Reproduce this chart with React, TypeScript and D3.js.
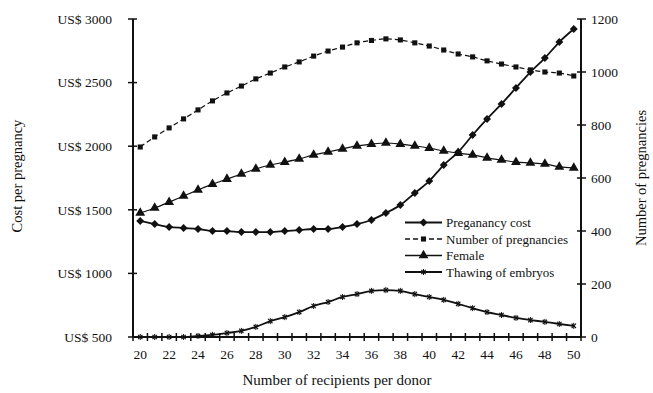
import * as d3 from 'd3'
import { useEffect, useRef } from 'react'

const recipients = d3.range(20, 51)

// cost per pregnancy (US$, left axis)
const pregnancyCost = [
	1412, 1388, 1365, 1357, 1349, 1333, 1333, 1325, 1325, 1325, 1333, 1341, 1349,
	1349, 1365, 1388, 1420, 1475, 1538, 1632, 1726, 1852, 1954, 2088, 2214, 2332,
	2458, 2583, 2693, 2819, 2921,
]
// counts, right axis
const numberOfPregnancies = [
	717, 755, 789, 823, 857, 891, 921, 947, 974, 996, 1019, 1038, 1060, 1079, 1094,
	1110, 1119, 1125, 1121, 1110, 1098, 1083, 1068, 1057, 1042, 1030, 1019, 1008,
	1000, 996, 985,
]
const female = [
	468, 487, 509, 532, 555, 577, 596, 615, 634, 649, 660, 672, 687, 698, 710, 721,
	728, 732, 728, 721, 713, 702, 694, 687, 676, 668, 660, 657, 653, 642, 638,
]
const thawing = [
	0, 0, 0, 0, 4, 8, 15, 23, 38, 60, 75, 94, 117, 132, 151, 162, 174, 177, 174,
	162, 151, 140, 125, 109, 94, 83, 72, 64, 57, 49, 42,
]

const leftTicks = [500, 1000, 1500, 2000, 2500, 3000]
const rightTicks = [0, 200, 400, 600, 800, 1000, 1200]
const xLabels = d3.range(20, 51, 2)

const W = 653
const H = 393
const FONT = '"Liberation Serif", "Tinos", "Times New Roman", Times, "DejaVu Serif", serif'

function App() {
	const svgRef = useRef(null)

	useEffect(() => {
		const svg = d3.select(svgRef.current)
		svg.selectAll('*').remove()

		const left = 133
		const right = 581
		const top = 19
		const bottom = 337

		const x = d3.scalePoint().domain(recipients).range([left, right]).padding(0.5)
		const yL = d3.scaleLinear().domain([500, 3000]).range([bottom, top])
		const yR = d3.scaleLinear().domain([0, 1200]).range([bottom, top])
		const step = x.step()

		const series = [
			{ name: 'Preganancy cost', data: pregnancyCost, y: yL, width: 1.8, dash: null, marker: 'diamond' },
			{ name: 'Number of pregnancies', data: numberOfPregnancies, y: yR, width: 1.2, dash: '5,3', marker: 'square' },
			{ name: 'Female', data: female, y: yR, width: 1.2, dash: null, marker: 'triangle' },
			{ name: 'Thawing of embryos', data: thawing, y: yR, width: 1.8, dash: null, marker: 'cross' },
		]

		const symbolFor = m => {
			if (m === 'diamond') return d3.symbol().type(d3.symbolDiamond2).size(40)
			if (m === 'square') return d3.symbol().type(d3.symbolSquare).size(26)
			if (m === 'triangle') return d3.symbol().type(d3.symbolTriangle).size(42)
			return d3.symbol().type(d3.symbolTimes).size(14)
		}

		const drawMarker = (g, m, cx, cy) => {
			const p = g.append('path')
				.attr('d', symbolFor(m)())
				.attr('transform', `translate(${cx},${cy})`)
			if (m === 'cross') {
				p.attr('fill', 'none').attr('stroke', '#111').attr('stroke-width', 1.2)
				g.append('line')
					.attr('x1', cx).attr('x2', cx)
					.attr('y1', cy - 3).attr('y2', cy + 3)
					.attr('stroke', '#111').attr('stroke-width', 1)
			} else {
				p.attr('fill', '#111')
			}
		}

		// axis frame
		const axes = svg.append('g').attr('stroke', '#111')
		axes.append('line').attr('x1', left).attr('x2', left).attr('y1', top).attr('y2', bottom).attr('stroke-width', 2)
		axes.append('line').attr('x1', right).attr('x2', right).attr('y1', top).attr('y2', bottom).attr('stroke-width', 2)
		axes.append('line').attr('x1', left).attr('x2', right).attr('y1', bottom).attr('y2', bottom).attr('stroke-width', 2)

		leftTicks.forEach(t => {
			axes.append('line').attr('x1', left - 5).attr('x2', left + 4)
				.attr('y1', yL(t)).attr('y2', yL(t)).attr('stroke-width', 1.5)
		})
		rightTicks.forEach(t => {
			axes.append('line').attr('x1', right - 4).attr('x2', right + 5)
				.attr('y1', yR(t)).attr('y2', yR(t)).attr('stroke-width', 1.5)
		})
		d3.range(recipients.length + 1).forEach(i => {
			const xx = left + i * step
			axes.append('line').attr('x1', xx).attr('x2', xx)
				.attr('y1', bottom - 4).attr('y2', bottom + 4).attr('stroke-width', 1.5)
		})

		const text = svg.append('g')
			.style('font-family', FONT)
			.style('font-size', '13.5px')
			.attr('fill', '#111')

		leftTicks.forEach(t => {
			text.append('text').attr('x', 112).attr('y', yL(t)).attr('dy', '0.35em')
				.attr('text-anchor', 'end').text(`US$ ${t}`)
		})
		rightTicks.forEach(t => {
			text.append('text').attr('x', 591).attr('y', yR(t)).attr('dy', '0.35em')
				.text(t)
		})
		xLabels.forEach(t => {
			text.append('text').attr('x', x(t)).attr('y', 359)
				.attr('text-anchor', 'middle').text(t)
		})

		text.append('text')
			.attr('transform', `translate(22,176) rotate(-90)`)
			.attr('text-anchor', 'middle')
			.style('font-size', '14.5px')
			.text('Cost per pregnancy')
		text.append('text')
			.attr('transform', `translate(646,178) rotate(-90)`)
			.attr('text-anchor', 'middle')
			.style('font-size', '14.5px')
			.text('Number of pregnancies')
		text.append('text')
			.attr('x', 337).attr('y', 385)
			.attr('text-anchor', 'middle')
			.style('font-size', '15px')
			.text('Number of recipients per donor')

		// lines + markers
		series.forEach(s => {
			const line = d3.line()
				.x((d, i) => x(recipients[i]))
				.y(d => s.y(d))
				.curve(d3.curveMonotoneX)
			svg.append('path')
				.datum(s.data)
				.attr('d', line)
				.attr('fill', 'none')
				.attr('stroke', '#111')
				.attr('stroke-width', s.width)
				.attr('stroke-dasharray', s.dash)
			const g = svg.append('g')
			s.data.forEach((d, i) => drawMarker(g, s.marker, x(recipients[i]), s.y(d)))
		})

		// legend
		const legend = svg.append('g')
		series.forEach((s, i) => {
			const ly = 222.5 + i * 16.5
			legend.append('line')
				.attr('x1', 405).attr('x2', 442).attr('y1', ly).attr('y2', ly)
				.attr('stroke', '#111')
				.attr('stroke-width', s.width + 0.4)
				.attr('stroke-dasharray', s.dash)
			drawMarker(legend, s.marker, 423.5, ly)
			legend.append('text')
				.attr('x', 446).attr('y', ly).attr('dy', '0.35em')
				.style('font-family', FONT).style('font-size', '13px').attr('fill', '#111')
				.text(s.name)
		})
	}, [])

	return (
		<svg
			ref={svgRef}
			width={W}
			height={H}
			style={{ position: 'absolute', left: 0, top: 0, background: '#fff' }}
		/>
	)
}

export default App
